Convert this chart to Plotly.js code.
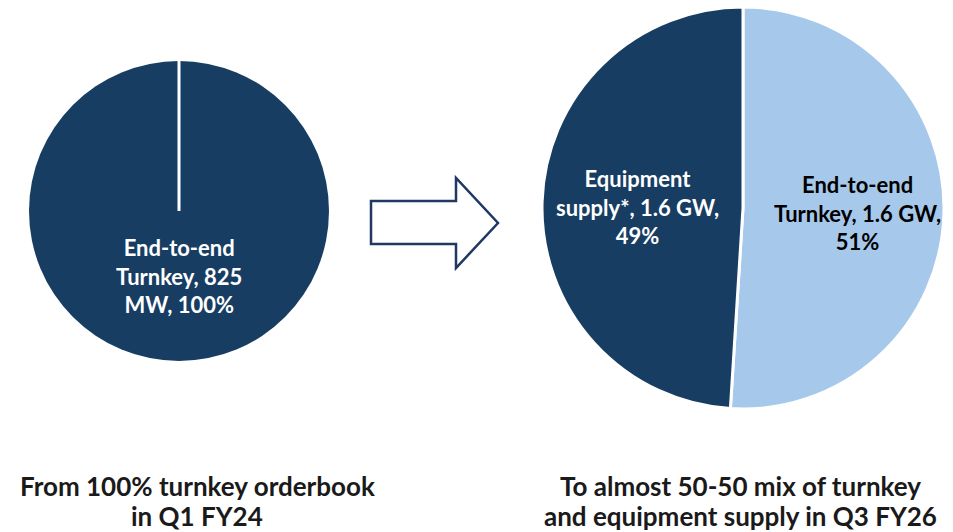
<!DOCTYPE html>
<html>
<head>
<meta charset="utf-8">
<script src="https://cdn.plot.ly/plotly-3.0.1.min.js"></script>
<style>
  html, body { margin: 0; padding: 0; background: #ffffff; }
  #chart { width: 953px; height: 532px; }
</style>
</head>
<body>
<div id="chart"></div>
<script>
// Order book mix: Q1 FY24 vs Q3 FY26
const beforeLabels = ["End-to-end Turnkey"];
const beforeValues = [100];
const beforeText = ["End-to-end<br>Turnkey, 825<br>MW, 100%"];

const afterLabels = ["End-to-end Turnkey", "Equipment supply*"];
const afterValues = [51, 49];
const afterCapacity = ["1.6 GW", "1.6 GW"];

// each caption is two lines, drawn line by line for tighter spacing
const captionLeft = ["From 100% turnkey orderbook", "in Q1 FY24"];
const captionRight = ["To almost 50-50 mix of turnkey", "and equipment supply in Q3 FY26"];

const NAVY = "#183d63";
const LIGHT = "#a6c9eb";
const FONT = "Lato, 'Open Sans', sans-serif";

const W = 953, H = 532;
const fx = x => x / W;
const fy = y => 1 - y / H;

const traces = [
  {
    type: "pie",
    labels: beforeLabels,
    values: beforeValues,
    sort: false,
    direction: "clockwise",
    rotation: 0,
    textinfo: "none",
    hoverinfo: "label+percent",
    marker: { colors: [NAVY], line: { color: "#ffffff", width: 0 } },
    domain: { x: [fx(29), fx(329)], y: [fy(361), fy(61)] },
    showlegend: false
  },
  {
    type: "pie",
    labels: afterLabels,
    values: afterValues,
    sort: false,
    direction: "clockwise",
    rotation: 0,
    textinfo: "none",
    hoverinfo: "label+percent",
    marker: { colors: [LIGHT, NAVY], line: { color: "#ffffff", width: 3 } },
    domain: { x: [fx(542), fx(944)], y: [fy(409), fy(7)] },
    showlegend: false
  }
];

const labelFont = (c) => ({ family: FONT, size: 22, color: c });

function note(text, x, y, font) {
  return {
    text: "<b>" + text + "</b>",
    x: fx(x), y: fy(y), xref: "paper", yref: "paper",
    xanchor: "center", yanchor: "middle",
    showarrow: false, font: font, align: "center"
  };
}

const captionFont = { family: FONT, size: 26, color: "#1a1a1a" };

const annotations = [
  note(beforeText[0], 179, 276, labelFont("#ffffff")),
  note("Equipment<br>supply*, " + afterCapacity[1] + ",<br>" + afterValues[1] + "%", 637, 207, labelFont("#ffffff")),
  note("End-to-end<br>Turnkey, " + afterCapacity[0] + ",<br>" + afterValues[0] + "%", 857, 213, labelFont("#000000")),
  note(captionLeft[0], 197, 486, captionFont),
  note(captionLeft[1], 197, 516, captionFont),
  note(captionRight[0], 740, 486, captionFont),
  note(captionRight[1], 740, 516, captionFont)
];

// hollow transition arrow between the two pies
const arrowPts = [[371, 201], [456, 201], [456, 178], [498, 223], [456, 268], [456, 244], [371, 244]];
const arrowPath = "M " + arrowPts.map(p => fx(p[0]) + "," + fy(p[1])).join(" L ") + " Z";

const shapes = [
  {
    type: "line", xref: "paper", yref: "paper",
    x0: fx(179), x1: fx(179), y0: fy(211), y1: fy(58),
    line: { color: "#ffffff", width: 3 }
  },
  {
    type: "path", xref: "paper", yref: "paper", path: arrowPath,
    fillcolor: "#ffffff", line: { color: "#1f3864", width: 2.5 }
  }
];

const layout = {
  width: W, height: H,
  margin: { l: 0, r: 0, t: 0, b: 0 },
  paper_bgcolor: "#ffffff",
  plot_bgcolor: "#ffffff",
  showlegend: false,
  annotations: annotations,
  shapes: shapes
};

Plotly.newPlot("chart", traces, layout, { displayModeBar: false, staticPlot: true });
</script>
</body>
</html>
